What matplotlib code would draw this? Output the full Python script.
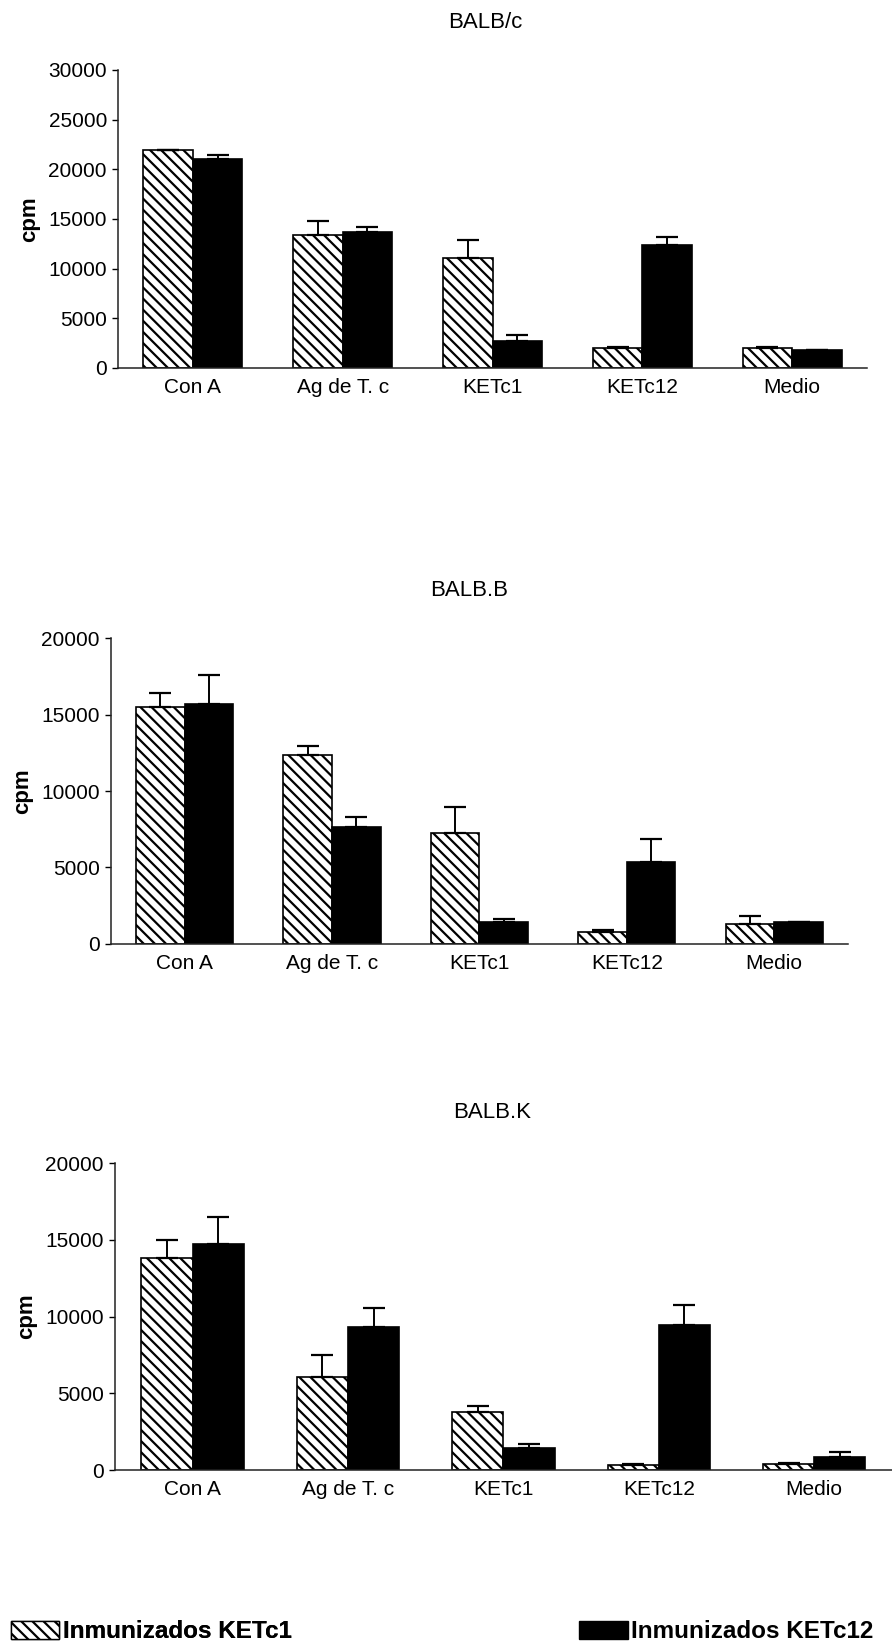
import numpy as np
import matplotlib.pyplot as plt

plt.rcParams['font.family'] = ['Liberation Sans', 'DejaVu Sans']
plt.rcParams['hatch.linewidth'] = 1.6
plt.rcParams['hatch.color'] = 'black'

categories = ['Con A', 'Ag de T. c', 'KETc1', 'KETc12', 'Medio']
strains = ['BALB/c', 'BALB.B', 'BALB.K']

# Inmunizados KETc1 (hatched)
ketc1_mean = [
    [21900, 13350, 11050, 2050, 2050],
    [15520, 12380, 7250, 800, 1330],
    [13830, 6090, 3760, 330, 370],
]
ketc1_err = [
    [0, 1400, 1780, 70, 70],
    [870, 590, 1700, 90, 500],
    [1170, 1410, 440, 60, 65],
]
# Inmunizados KETc12 (black)
ketc12_mean = [
    [21050, 13700, 2720, 12350, 1780],
    [15690, 7640, 1420, 5380, 1440],
    [14700, 9300, 1460, 9430, 830],
]
ketc12_err = [
    [420, 500, 600, 850, 50],
    [1870, 650, 240, 1460, 20],
    [1780, 1280, 220, 1350, 370],
]
ymax = [30000, 20000, 20000]

# axes boxes in figure fraction: left, bottom, width, height
boxes = [
    [0.1323, 0.7762, 0.8397, 0.1813],
    [0.1244, 0.4258, 0.8262, 0.1861],
    [0.1289, 0.1058, 0.8710, 0.1867],
]
title_pos = [(0.5437, 0.9866), (0.526, 0.6411), (0.552, 0.3230)]

fig = plt.figure(figsize=(8.92, 16.44), dpi=100)
w = 0.33
x = np.arange(len(categories))

for k in range(3):
    ax = fig.add_axes(boxes[k])
    m1 = np.array(ketc1_mean[k])
    m2 = np.array(ketc12_mean[k])
    e1 = np.array(ketc1_err[k])
    e2 = np.array(ketc12_err[k])
    ax.bar(x - w / 2, m1, w, color='white', edgecolor='black', hatch='\\\\\\',
           linewidth=1.2, zorder=2)
    ax.bar(x + w / 2, m2, w, color='black', edgecolor='black', linewidth=1.2, zorder=2)
    ax.errorbar(x - w / 2, m1, yerr=[np.zeros(5), e1], fmt='none', ecolor='black',
                elinewidth=1.4, capsize=8, capthick=1.6, zorder=3)
    ax.errorbar(x + w / 2, m2, yerr=[np.zeros(5), e2], fmt='none', ecolor='black',
                elinewidth=1.4, capsize=8, capthick=1.6, zorder=1)

    ax.set_xlim(-0.5, len(categories) - 0.5)
    ax.set_ylim(0, ymax[k])
    ax.set_yticks(np.arange(0, ymax[k] + 1, 5000))
    ax.set_xticks(x)
    ax.set_xticklabels(categories)
    ax.tick_params(axis='x', length=0, pad=7, labelsize=15)
    ax.tick_params(axis='y', length=4, width=1, pad=4, labelsize=15)
    for s in ['top', 'right']:
        ax.spines[s].set_visible(False)
    for s in ['left', 'bottom']:
        ax.spines[s].set_linewidth(1.1)
        ax.spines[s].set_color('#222222')
    ax.set_ylabel('cpm', fontsize=16, fontweight='bold', labelpad=6)
    fig.text(title_pos[k][0], title_pos[k][1], strains[k], fontsize=16,
             ha='center', va='center')

h1 = plt.Rectangle((0, 0), 1, 1, facecolor='white', edgecolor='black', hatch='\\\\\\',
                   linewidth=1.0)
h2 = plt.Rectangle((0, 0), 1, 1, facecolor='black', edgecolor='black')
leg1 = fig.legend([h1], ['Inmunizados KETc1'], loc='center left',
                  bbox_to_anchor=(0.012, 0.0073), frameon=False, borderpad=0,
                  borderaxespad=0, handlelength=2.0, handleheight=0.75,
                  handletextpad=0.15, prop={'size': 17.5, 'weight': 'bold'})
leg2 = fig.legend([h2], ['Inmunizados KETc12'], loc='center left',
                  bbox_to_anchor=(0.649, 0.0073), frameon=False, borderpad=0,
                  borderaxespad=0, handlelength=2.0, handleheight=0.75,
                  handletextpad=0.15, prop={'size': 17.5, 'weight': 'bold'})
fig.add_artist(leg1)

fig.savefig('out.png', dpi=100)
